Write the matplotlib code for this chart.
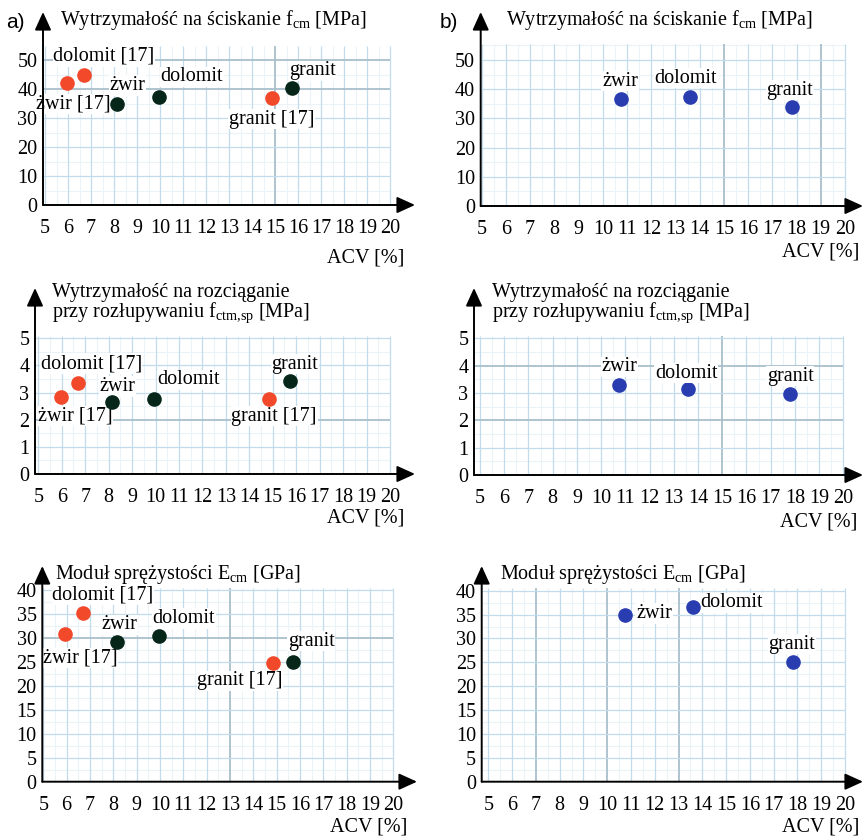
import matplotlib
matplotlib.use("Agg")
import matplotlib.pyplot as plt

plt.rcParams['font.family'] = ['Liberation Serif', 'DejaVu Serif']
plt.rcParams['mathtext.fontset'] = 'custom'
plt.rcParams['mathtext.rm'] = 'Liberation Serif'
plt.rcParams['mathtext.it'] = 'Liberation Serif:italic'

# ---------------- data ----------------
names = ["żwir", "dolomit", "granit"]
lit_names = ["żwir [17]", "dolomit [17]", "granit [17]"]

acv_lit = [5.95, 6.7, 14.85]   # literature [17]
acv_a = [8.15, 9.95, 15.72]    # own study, panel a
acv_b = [10.75, 13.6, 17.8]    # panel b

fcm_lit = [42.0, 45.0, 36.8]
fcm_a = [35.0, 37.3, 40.4]
fcm_b = [36.6, 37.2, 33.8]

fctm_lit = [2.83, 3.37, 2.75]
fctm_a = [2.67, 2.77, 3.42]
fctm_b = [3.30, 3.14, 2.96]

ecm_lit = [30.8, 35.2, 24.8]
ecm_a = [29.2, 30.3, 24.9]
ecm_b = [35.0, 36.6, 25.0]

x_ticks = list(range(5, 21))
fcm_ticks = [0, 10, 20, 30, 40, 50]
fctm_ticks = [0, 1, 2, 3, 4, 5]
ecm_ticks = [0, 5, 10, 15, 20, 25, 30, 35, 40]

title_fcm = r"Wytrzymałość na ściskanie f$_{\mathrm{cm}}$ [MPa]"
title_fctm = "Wytrzymałość na rozciąganie\n" + r"przy rozłupywaniu f$_{\mathrm{ctm{,}sp}}$ [MPa]"
title_ecm = r"Moduł sprężystości E$_{\mathrm{cm}}$ [GPa]"
xlabel = "ACV [%]"

# ---------------- styling ----------------
W, H = 864, 839
FS = 14.5
RED = '#f2492a'
DARK = '#06261a'
BLUE = '#2a3db0'
GRID = '#c3dcec'
GRID_MINOR = '#ebf3f8'
GRID_DARK = '#a9bfcc'

fig = plt.figure(figsize=(W / 100, H / 100), dpi=100)


def make_axes(x_ax, xpx5, xpx20, y0, yref, yref_val, x_tip, y_tip):
    ux = (xpx20 - xpx5) / 15.0
    uy = (y0 - yref) / yref_val
    ax = fig.add_axes([x_ax / W, 1 - y0 / H, (x_tip - x_ax) / W, (y0 - y_tip) / H])
    ax.set_xlim(5 - (xpx5 - x_ax) / ux, 5 + (x_tip - xpx5) / ux)
    ax.set_ylim(0, (y0 - y_tip) / uy)
    for s in ax.spines.values():
        s.set_visible(False)
    ax.patch.set_alpha(0)
    return ax


def style(ax, yticks, grid_top, ystep, dark_x=(), dark_y=()):
    x0 = ax.get_xlim()[0]
    for v in [x + 0.5 for x in x_ticks[:-1]]:
        ax.vlines(v, 0, grid_top, color=GRID_MINOR, lw=0.8, zorder=0)
    yv = ystep / 2
    while yv < grid_top:
        ax.hlines(yv, x0, 20, color=GRID_MINOR, lw=0.8, zorder=0)
        yv += ystep
    for v in x_ticks:
        ax.vlines(v, 0, grid_top, color=GRID_DARK if v in dark_x else GRID,
                  lw=1.3 if v in dark_x else 0.9, zorder=0.5)
    for v in yticks[1:]:
        ax.hlines(v, x0, 20, color=GRID_DARK if v in dark_y else GRID,
                  lw=1.3 if v in dark_y else 0.9, zorder=0.5)
    ax.set_xticks(x_ticks)
    ax.set_xticklabels([str(v) for v in x_ticks], fontsize=FS)
    ax.set_yticks(yticks)
    ax.set_yticklabels([str(v) for v in yticks], fontsize=FS)
    ax.tick_params(axis='x', length=0, pad=10)
    ax.tick_params(axis='y', length=0, pad=4)
    arrow = dict(arrowstyle='-|>,head_length=0.55,head_width=0.25', color='black',
                 lw=1.4, shrinkA=0, shrinkB=0, mutation_scale=20)
    ax.annotate('', xy=(1, 0), xytext=(0, 0), xycoords='axes fraction',
                arrowprops=arrow, annotation_clip=False)
    ax.annotate('', xy=(0, 1), xytext=(0, 0), xycoords='axes fraction',
                arrowprops=arrow, annotation_clip=False)


def points(ax, xs, ys, color, labels, offsets, label_z=(2, 2, 2)):
    ax.plot(xs, ys, 'o', color=color, ms=9.5, mec=color, zorder=3, clip_on=False)
    for x, y, lab, off, z in zip(xs, ys, labels, offsets, label_z):
        ax.annotate(lab, (x, y), xytext=off, textcoords='offset pixels',
                    ha='center', va='center', fontsize=FS, zorder=z,
                    bbox=dict(facecolor='white', edgecolor='none', pad=0.5))


def acv_label(ax, dy):
    ax.annotate(xlabel, (20, 0), xytext=(14, -dy), textcoords='offset pixels',
                ha='right', va='center', fontsize=FS, annotation_clip=False)


# ---------- panel a: compressive strength ----------
ax = make_axes(43, 45, 390, 205, 60, 50, 415, 12)
style(ax, fcm_ticks, 55, 10, dark_x=(15,), dark_y=(40, 50))
points(ax, acv_lit, fcm_lit, RED, lit_names, [(6, -21), (20, 18), (0, -21)])
points(ax, acv_a, fcm_a, DARK, names, [(10, 18), (33, 20), (21, 17)])
acv_label(ax, 53)

# ---------- panel b: compressive strength ----------
ax = make_axes(480.7, 481.7, 845, 206, 60, 50, 863, 12)
style(ax, fcm_ticks, 55.5, 10, dark_x=(15, 19))
points(ax, acv_b, fcm_b, BLUE, names, [(-1, 18), (-4, 19), (-2, 17)])
acv_label(ax, 46)

# ---------- panel a: splitting tensile ----------
ax = make_axes(35, 38.3, 390, 474, 338.3, 5, 415, 288)
style(ax, fctm_ticks, 5.1, 1, dark_y=(2,))
points(ax, acv_lit, fctm_lit, RED, lit_names, [(15, -19), (13, 19), (5, -17)])
points(ax, acv_a, fctm_a, DARK, names, [(5, 15), (34, 19), (5, 17)])
acv_label(ax, 44)

# ---------- panel b: splitting tensile ----------
ax = make_axes(474, 480, 843.3, 475, 338.3, 5, 863, 288)
style(ax, fctm_ticks, 5.1, 1, dark_x=(15,), dark_y=(2, 4))
points(ax, acv_b, fctm_b, BLUE, names, [(0, 18), (-2, 16), (0, 18)], label_z=(2, 4, 2))
acv_label(ax, 47)

# ---------- panel a: modulus ----------
ax = make_axes(42.3, 43.3, 393.3, 781.7, 590, 40, 417, 566)
style(ax, ecm_ticks, 40.5, 5, dark_x=(13,), dark_y=(30,))
points(ax, acv_lit, ecm_lit, RED, lit_names, [(15, -24), (20, 18), (-33, -18)])
points(ax, acv_a, ecm_a, DARK, names, [(3, 17), (25, 18), (18, 21)])
acv_label(ax, 45)

# ---------- panel b: modulus ----------
ax = make_axes(481.7, 488.3, 845, 781.7, 590.7, 40, 863, 566)
style(ax, ecm_ticks, 40.5, 5, dark_x=(7, 10, 13))
points(ax, acv_b, ecm_b, BLUE, names, [(29, 1), (39, 4), (-1, 18)])
acv_label(ax, 45)

# ---------- titles and panel letters ----------
def ftext(x, y, s, **kw):
    fig.text(x / W, 1 - y / H, s, **kw)

ftext(60, 20, title_fcm, fontsize=FS, va='center')
ftext(506, 20, title_fcm, fontsize=FS, va='center')
ftext(52, 304, title_fctm, fontsize=FS, va='center', linespacing=0.95)
ftext(492, 304, title_fctm, fontsize=FS, va='center', linespacing=0.95)
ftext(55, 574, title_ecm, fontsize=FS, va='center')
ftext(500, 574, title_ecm, fontsize=FS, va='center')
ftext(6, 22, "a)", fontsize=15, va='center', family=['Liberation Sans', 'DejaVu Sans'])
ftext(440, 22, "b)", fontsize=15, va='center', family=['Liberation Sans', 'DejaVu Sans'])

fig.savefig("out.png", dpi=100)
